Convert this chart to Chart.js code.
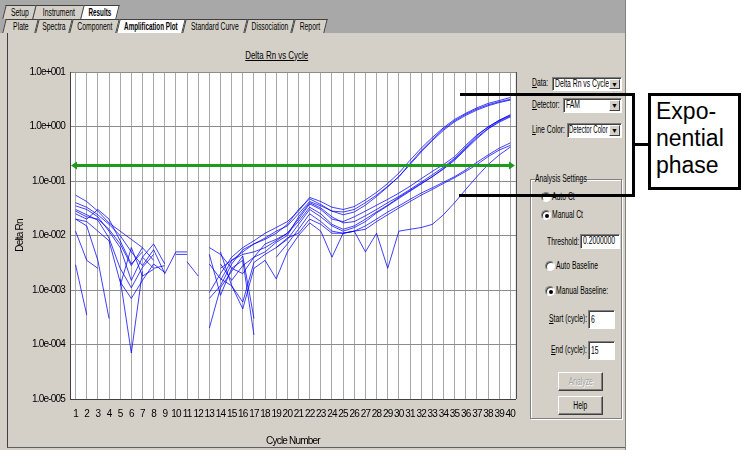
<!DOCTYPE html>
<html>
<head>
<meta charset="utf-8">
<script src="https://cdn.jsdelivr.net/npm/chart.js@4.4.0/dist/chart.umd.min.js"></script>
<style>
  body { margin: 0; width: 742px; height: 450px; position: relative; overflow: hidden; background: #fff;
         font-family: 'Liberation Sans', Arial, sans-serif; font-size: 10px; color: #000; }
  .n { display: inline-block; font-style: normal; white-space: nowrap; transform: scaleX(0.68); transform-origin: 0 50%; }
  #app { position: absolute; left: 0; top: 0; width: 625px; height: 450px; background: #d4d0c8; border-right: 1px solid #808080; }
  .strip { position: absolute; left: 0; width: 625px; background: #a8a8a8; }
  .tab { position: absolute; height: 13px; line-height: 13px; background: #d4d0c8; border: 1px solid #404040; border-bottom: none;
         transform: skewX(-14deg); }
  .tab > span { position: absolute; left: 0; right: 0; top: 0; bottom: 0; transform: skewX(14deg); }
  .tab .n { position: absolute; left: 50%; top: 0; transform-origin: 50% 50%; transform: translateX(-50%) scaleX(0.68); }
  .tab.on { background: #fff; font-weight: bold; }
  .tab.on .n { transform: translateX(-50%) scaleX(0.63); }
  #page { position: absolute; left: 7px; top: 33px; width: 617px; height: 414px; border-left: 1px solid #404040; border-bottom: 1px solid #606060; }
  #chartBox { position: absolute; left: 8px; top: 26px; width: 517px; height: 424px; }
  #title { position: absolute; left: 200px; width: 154px; top: 49px; text-align: center; font-size: 11px; }
  #title .n { transform: scaleX(0.72); transform-origin: 50% 50%; text-decoration: underline; }
  .lbl { position: absolute; white-space: nowrap; line-height: 12px; }
  .box { position: absolute; background: #fff; border: 1px solid; border-color: #808080 #fff #fff #808080;
         box-shadow: inset 1px 1px 0 #404040; line-height: 12px; padding-left: 2px; box-sizing: border-box; white-space: nowrap; overflow: hidden; }
  .drop { position: absolute; right: 1px; top: 1px; bottom: 1px; width: 11px; background: #d4d0c8;
          border: 1px solid; border-color: #fff #404040 #404040 #fff; box-sizing: border-box; font-size: 7px; line-height: 10px; text-align: center; }
  .radio { position: absolute; width: 10px; height: 10px; border-radius: 50%; background: #fff; box-sizing: border-box;
           border: 1px solid; border-color: #808080 #fff #fff #808080; box-shadow: inset 1px 1px 0 #404040; }
  .radio.on::after { content: ''; position: absolute; left: 3px; top: 3px; width: 4px; height: 4px; border-radius: 50%; background: #000; }
  #group { position: absolute; left: 530px; top: 179px; width: 92px; height: 240px; border: 1px solid #808080; box-shadow: 1px 1px 0 #fff, inset 1px 1px 0 #fff; box-sizing: border-box; }
  .btn { position: absolute; width: 45px; height: 19px; box-sizing: border-box; border: 1px solid; border-color: #fff #404040 #404040 #fff;
         box-shadow: inset -1px -1px 0 #808080; text-align: center; line-height: 17px; background: #d4d0c8; }
  .btn .n { transform-origin: 50% 50%; }
  .ann { position: absolute; background: #000; z-index: 5; }
  #callout { position: absolute; left: 648px; top: 93px; width: 93px; height: 97px; box-sizing: border-box; border: 3px solid #000; background: #fff;
             font-family: 'Liberation Sans', Arial, sans-serif; font-size: 23px; line-height: 27px; padding: 2px 0 0 5px; z-index: 5; }
</style>
</head>
<body>
<div id="app">
  <div class="strip" style="top:0;height:33px;"></div>
  <div class="tab" style="left:4px;top:5px;width:29px;"><span><i class="n">Setup</i></span></div>
  <div class="tab" style="left:34px;top:5px;width:47px;"><span><i class="n">Instrument</i></span></div>
  <div class="tab on" style="left:82px;top:5px;width:34px;"><span><i class="n">Results</i></span></div>
  <div class="tab" style="left:4px;top:19px;width:31px;"><span><i class="n">Plate</i></span></div>
  <div class="tab" style="left:37px;top:19px;width:32px;"><span><i class="n">Spectra</i></span></div>
  <div class="tab" style="left:71px;top:19px;width:45px;"><span><i class="n">Component</i></span></div>
  <div class="tab on" style="left:118px;top:19px;width:64px;"><span><i class="n">Amplification Plot</i></span></div>
  <div class="tab" style="left:184px;top:19px;width:60px;"><span><i class="n">Standard Curve</i></span></div>
  <div class="tab" style="left:246px;top:19px;width:45px;"><span><i class="n">Dissociation</i></span></div>
  <div class="tab" style="left:293px;top:19px;width:31px;"><span><i class="n">Report</i></span></div>
  <div id="page"></div>

  <div id="title"><i class="n">Delta Rn vs Cycle</i></div>
  <div id="chartBox"><canvas id="plot" width="517" height="424"></canvas></div>

  <div class="lbl" style="left:532px;top:77px;"><i class="n"><u>D</u>ata:</i></div>
  <div class="box" style="left:552px;top:77px;width:70px;height:14px;"><i class="n">Delta Rn vs Cycle</i><div class="drop">&#9660;</div></div>
  <div class="lbl" style="left:532px;top:99px;"><i class="n"><u>D</u>etector:</i></div>
  <div class="box" style="left:563px;top:98px;width:59px;height:15px;"><i class="n">FAM</i><div class="drop">&#9660;</div></div>
  <div class="lbl" style="left:532px;top:124px;"><i class="n"><u>L</u>ine Color:</i></div>
  <div class="box" style="left:567px;top:123px;width:55px;height:15px;padding-left:1px;"><i class="n" style="transform:scaleX(0.6);">Detector Color</i><div class="drop">&#9660;</div></div>

  <div id="group"></div>
  <div class="lbl" style="left:535px;top:173px;background:#d4d0c8;width:41px;"><i class="n">Analysis Settings</i></div>
  <div class="radio" style="left:541px;top:192px;"></div><div class="lbl" style="left:552px;top:191px;"><i class="n">Auto Ct</i></div>
  <div class="radio on" style="left:541px;top:210px;"></div><div class="lbl" style="left:552px;top:209px;"><i class="n">Manual Ct</i></div>
  <div class="lbl" style="left:547px;top:236px;"><i class="n">Threshold:</i></div>
  <div class="box" style="left:580px;top:234px;width:40px;height:15px;"><i class="n">0.2000000</i></div>
  <div class="radio" style="left:545px;top:261px;"></div><div class="lbl" style="left:556px;top:260px;"><i class="n">Auto Baseline</i></div>
  <div class="radio on" style="left:545px;top:286px;"></div><div class="lbl" style="left:556px;top:285px;"><i class="n">Manual Baseline:</i></div>
  <div class="lbl" style="left:549px;top:313px;"><i class="n"><u>S</u>tart (cycle):</i></div>
  <div class="box" style="left:588px;top:310px;width:27px;height:19px;line-height:17px;"><i class="n">6</i></div>
  <div class="lbl" style="left:551px;top:344px;"><i class="n"><u>E</u>nd (cycle):</i></div>
  <div class="box" style="left:588px;top:341px;width:27px;height:19px;line-height:17px;"><i class="n">15</i></div>
  <div class="btn" style="left:558px;top:372px;color:#a0a0a0;text-shadow:1px 1px 0 #fff;"><i class="n">Analyze</i></div>
  <div class="btn" style="left:558px;top:396px;"><i class="n">Help</i></div>
</div>

<div class="ann" style="left:460px;top:93px;width:175px;height:3px;"></div>
<div class="ann" style="left:459px;top:194px;width:176px;height:3px;"></div>
<div class="ann" style="left:632px;top:93px;width:3px;height:104px;"></div>
<div class="ann" style="left:632px;top:143px;width:17px;height:3px;"></div>
<div id="callout">Expo-<br>nential<br>phase</div>

<script>
// cycle numbers on the x axis
const cycles = ['1','2','3','4','5','6','7','8','9','10','11','12','13','14','15','16','17','18','19','20',
                '21','22','23','24','25','26','27','28','29','30','31','32','33','34','35','36','37','38','39','40'];

// decade ticks of the log axis
const yTicks = [1e-5, 1e-4, 1e-3, 1e-2, 1e-1, 1, 10];
const yTickLabels = ['1.0e-005', '1.0e-004', '1.0e-003', '1.0e-002', '1.0e-001', '1.0e+000', '1.0e+001'];

const threshold = 0.2;

// Delta Rn per well (null = negative value, not drawn on log axis)
const well1 = [0.055,0.042,0.028,0.017,0.012,0.0085,0.006,0.0035,null,null,null,null,0.0009,0.002,0.004,0.006,0.008,0.011,0.014,0.018,
               0.028,0.05,0.042,0.033,0.03,0.034,0.045,0.062,0.09,0.14,0.24,0.4,0.63,0.95,1.35,1.75,2.2,2.65,3.0,3.4];
const well2 = [0.035,0.03,0.022,0.012,0.006,0.0015,0.004,0.007,0.003,null,null,null,null,0.0015,0.0035,0.005,0.007,0.009,0.012,0.015,
               0.025,0.042,0.035,0.028,0.027,0.03,0.04,0.055,0.08,0.12,0.21,0.36,0.58,0.9,1.28,1.68,2.1,2.5,2.85,3.15];
const well3 = [0.03,0.024,0.019,0.009,0.0025,0.0011,0.0026,0.0045,null,null,null,null,0.0007,0.0012,0.003,0.0055,0.007,0.0085,0.011,0.016,
               0.03,0.047,0.037,0.028,0.024,0.027,0.036,0.052,0.078,0.12,0.2,0.34,0.55,0.85,1.22,1.6,2.0,2.4,2.75,3.05];
const well4 = [0.04,0.033,0.024,0.016,0.01,0.005,0.0028,0.0055,0.002,0.005,0.005,null,null,0.003,0.0015,0.0028,0.004,0.007,0.0085,0.011,
               0.02,0.038,0.03,0.02,0.018,0.022,0.028,0.036,0.046,0.06,0.08,0.11,0.15,0.2,0.28,0.45,0.7,0.98,1.3,1.6];
const well5 = [0.025,0.02,0.03,0.02,0.008,0.003,0.005,null,null,null,null,null,0.006,0.0045,0.0025,0.002,0.004,0.005,0.0075,0.01,
               0.022,0.04,0.032,0.022,0.017,0.018,0.023,0.03,0.04,0.052,0.07,0.095,0.13,0.18,0.26,0.42,0.68,0.98,1.3,1.65];
const well6 = [0.02,0.018,0.012,0.008,0.0014,0.0007,0.0015,0.003,0.0021,null,0.0033,0.0018,null,0.0025,0.0035,0.0045,0.005,0.006,0.008,0.011,
               0.018,0.033,0.025,0.016,0.013,0.015,0.02,0.027,0.036,0.05,0.067,0.09,0.12,0.165,0.24,0.38,0.6,0.9,1.2,1.5];
const well7 = [0.028,0.022,0.02,0.013,0.007,0.0028,0.006,null,null,0.0045,0.0045,null,null,0.005,0.0012,0.0006,0.0032,0.0045,0.006,0.0085,
               0.016,0.03,0.022,0.015,0.012,0.014,0.018,0.026,0.035,0.048,0.065,0.088,0.12,0.17,0.25,0.4,0.63,0.92,1.25,1.55];
const well8 = [0.0029,0.00035,null,null,0.0012,0.006,0.0018,0.0024,null,null,null,null,0.0002,0.0011,0.0022,0.0042,0.0003,null,0.004,0.007,
               0.013,0.025,0.018,0.012,0.011,0.012,0.015,0.02,0.027,0.035,0.046,0.06,0.075,0.095,0.12,0.16,0.22,0.3,0.4,0.5];
const well9 = [0.02,0.015,0.0035,0.0003,null,null,0.004,0.0025,0.0028,null,null,null,0.0045,0.0008,0.0025,0.0035,0.00015,null,0.006,0.009,
               0.011,0.02,0.016,0.011,0.011,0.012,0.013,0.018,0.024,0.032,0.042,0.055,0.07,0.09,0.115,0.15,0.2,0.28,0.37,0.45];
const well10 = [0.012,0.0035,0.0025,null,0.0016,0.00007,0.0022,null,null,null,null,null,0.003,0.0016,0.0012,0.00045,0.0025,0.0035,0.0016,0.005,
                0.01,0.017,0.012,0.004,0.011,0.012,0.005,0.011,0.0025,0.012,0.013,0.014,0.016,0.024,0.04,0.07,0.12,0.2,0.3,0.42];

const wells = [well1, well2, well3, well4, well5, well6, well7, well8, well9, well10];

// white plot area, threshold line with arrow heads, dark right edge
const plotDecor = {
    id: 'plotDecor',
    beforeDraw(chart) {
        const { ctx, chartArea: a } = chart;
        ctx.letterSpacing = '-0.8px';  // squeeze the axis text, like the narrow UI font
        ctx.save();
        ctx.fillStyle = '#fff';
        ctx.fillRect(a.left, a.top, a.right - a.left, a.bottom - a.top);
        ctx.restore();
    },
    afterDatasetsDraw(chart) {
        const { ctx, chartArea: a } = chart;
        const y = Math.round(chart.scales.y.getPixelForValue(threshold)) + 0.5;
        ctx.save();
        ctx.strokeStyle = '#1f9a1f';
        ctx.fillStyle = '#1f9a1f';
        ctx.lineWidth = 3;
        ctx.beginPath();
        ctx.moveTo(a.left + 3, y);
        ctx.lineTo(a.right - 3, y);
        ctx.stroke();
        ctx.beginPath();
        ctx.moveTo(a.left + 1, y); ctx.lineTo(a.left + 7, y - 4); ctx.lineTo(a.left + 7, y + 4); ctx.closePath();
        ctx.moveTo(a.right - 1, y); ctx.lineTo(a.right - 7, y - 4); ctx.lineTo(a.right - 7, y + 4); ctx.closePath();
        ctx.fill();
        ctx.strokeStyle = '#404040';
        ctx.lineWidth = 1;
        ctx.beginPath();
        ctx.moveTo(a.right + 0.5, a.top);
        ctx.lineTo(a.right + 0.5, a.bottom);
        ctx.stroke();
        ctx.restore();
    }
};

const tickFont = { family: "'Liberation Sans', Arial, sans-serif", size: 10 };

new Chart(document.getElementById('plot'), {
    type: 'line',
    data: {
        labels: cycles,
        datasets: wells.map(w => ({
            data: w,
            borderColor: 'rgba(0, 0, 255, 0.75)',
            borderWidth: 1,
            pointRadius: 0,
            tension: 0,
            spanGaps: false
        }))
    },
    options: {
        responsive: false,
        animation: false,
        devicePixelRatio: 1,
        layout: { padding: { top: 46, right: 8, left: 0, bottom: 0 } },
        plugins: { legend: { display: false }, tooltip: { enabled: false } },
        scales: {
            x: {
                offset: true,
                grid: { color: '#a8a8a8', drawTicks: false },
                border: { color: '#404040' },
                ticks: { font: tickFont, color: '#000', padding: 9, maxRotation: 0, autoSkip: false },
                title: { display: true, text: 'Cycle Number', font: tickFont, color: '#000', padding: { top: 0, bottom: 3 } },
                afterFit(scale) { scale.height = 51; }
            },
            y: {
                type: 'logarithmic',
                min: 1e-5,
                max: 10,
                grid: { color: '#8c8c8c', drawTicks: false },
                border: { color: '#404040' },
                ticks: {
                    font: tickFont, color: '#000', padding: 5,
                    callback: (v) => yTickLabels[yTicks.indexOf(v)] ?? ''
                },
                afterBuildTicks(scale) { scale.ticks = yTicks.map(v => ({ value: v })); },
                title: { display: true, text: 'Delta Rn', font: tickFont, color: '#000', padding: { top: 6, bottom: 0 } },
                afterFit(scale) { scale.width = 62; }
            }
        }
    },
    plugins: [plotDecor]
});
</script>
</body>
</html>
